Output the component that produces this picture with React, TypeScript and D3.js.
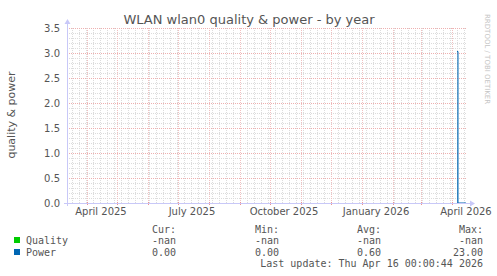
import * as d3 from 'd3';

// time window of the graph (about 400 days ending at the last update)
const END = new Date(2026, 3, 16, 0, 0, 44);
const START = d3.timeDay.offset(END, -400);

// power samples (date, value) – quality has no data (nan)
const powerDates = ['2026-04-01', '2026-04-06', '2026-04-07', '2026-04-15'];
const powerValues = [0, 3.03, 0, 0];

const yTicks = [0, 0.5, 1, 1.5, 2, 2.5, 3, 3.5];
const xLabels = ['April 2025', 'July 2025', 'October 2025', 'January 2026', 'April 2026'];
const xLabelDates = ['2025-04-15', '2025-07-15', '2025-10-15', '2026-01-15', '2026-04-15'];

const legendCols = ['Cur:', 'Min:', 'Avg:', 'Max:'];
const legendSeries = ['Quality', 'Power'];
const legendColors = ['#00CC00', '#0066B3'];
const legendValues = [
  ['-nan', '-nan', '-nan', '-nan'],
  ['0.00', '0.00', '0.60', '23.00'],
];

const parse = (s: string) => {
  const [y, m, d] = s.split('-').map(Number);
  return new Date(y, m - 1, d);
};

const W = 497;
const H = 276;
const LEFT = 67;
const RIGHT = 467;
const TOP = 28;
const BOTTOM = 203;

type Pt = { date: Date; value: number };

export default function App() {
  const x = d3.scaleTime().domain([START, END]).range([LEFT, RIGHT]);
  const y = d3.scaleLinear().domain([0, 3.5]).range([BOTTOM, TOP]);

  const minorY = d3.range(0, 36).map((i) => i / 10).filter((v) => !yTicks.includes(Math.round(v * 10) / 10));
  const months = d3.timeMonth.range(START, END);
  const weeks = d3.timeMonday.range(START, END);

  const power: Pt[] = powerDates.map((d, i) => ({ date: parse(d), value: powerValues[i] }));
  const area = d3
    .area<Pt>()
    .x((d) => x(d.date))
    .y0(y(0))
    .y1((d) => y(d.value))
    .curve(d3.curveStepAfter);
  const line = d3
    .line<Pt>()
    .x((d) => x(d.date))
    .y((d) => y(d.value))
    .curve(d3.curveStepAfter);

  const font = 'DejaVu Sans, sans-serif';
  const mono = 'DejaVu Sans Mono, monospace';
  const colX = [176, 279, 381, 483];
  const px = (d: Date) => Math.round(x(d)) + 0.5;

  return (
    <div style={{ position: 'absolute', left: 0, top: 0 }}>
      <svg width={W} height={H} style={{ display: 'block', background: '#fff' }}>
        <defs>
          <linearGradient id="pw" x1="0" y1="0" x2="0" y2="1">
            <stop offset="0%" stopColor="#0066B3" stopOpacity={0.15} />
            <stop offset="100%" stopColor="#0066B3" stopOpacity={0.6} />
          </linearGradient>
        </defs>

        {/* minor grid */}
        {minorY.map((v, i) => (
          <line key={'my' + i} x1={LEFT} x2={RIGHT} y1={y(v) + 0.5} y2={y(v) + 0.5}
            stroke="#dcdcdc" strokeDasharray="1,1" />
        ))}
        {weeks.map((d, i) => (
          <line key={'mx' + i} x1={px(d)} x2={px(d)} y1={TOP} y2={BOTTOM}
            stroke="#dcdcdc" strokeDasharray="1,1" />
        ))}

        {/* major grid */}
        {yTicks.map((v) => (
          <line key={'Y' + v} x1={LEFT} x2={RIGHT} y1={y(v) + 0.5} y2={y(v) + 0.5}
            stroke="#eeb0b0" strokeDasharray="1,1" />
        ))}
        {months.map((d, i) => (
          <line key={'X' + i} x1={px(d)} x2={px(d)} y1={TOP} y2={BOTTOM}
            stroke="#f0c0c0" strokeDasharray="1,1" />
        ))}
        {months.map((d, i) => (
          <line key={'t' + i} x1={px(d)} x2={px(d)} y1={BOTTOM - 1} y2={BOTTOM + 2}
            stroke="#ee9090" />
        ))}

        {/* power */}
        <path d={area(power) ?? ''} fill="url(#pw)" />
        <path d={line(power.slice(1)) ?? ''} fill="none" stroke="#0066B3" strokeWidth={1} />

        {/* axes */}
        <line x1={LEFT + 0.5} x2={LEFT + 0.5} y1={BOTTOM + 3} y2={TOP - 5} stroke="#c8c8f8" />
        <line x1={LEFT - 3} x2={RIGHT + 4} y1={BOTTOM + 0.5} y2={BOTTOM + 0.5} stroke="#c8c8f8" />
        <path d={`M${LEFT - 2.5},${TOP - 4} L${LEFT + 3.5},${TOP - 4} L${LEFT + 0.5},${TOP - 9} Z`} fill="#c8c8f8" />
        <path d={`M${RIGHT + 3},${BOTTOM - 2.5} L${RIGHT + 3},${BOTTOM + 3.5} L${RIGHT + 8},${BOTTOM + 0.5} Z`} fill="#c8c8f8" />

        {/* y labels */}
        {yTicks.map((v) => (
          <text key={'yl' + v} x={LEFT - 7} y={y(v) + 3.8} textAnchor="end" fontFamily={font} fontSize={10} fill="#555">
            {d3.format('.1f')(v)}
          </text>
        ))}
        {/* x labels */}
        {xLabels.map((l, i) => (
          <text key={l} x={x(parse(xLabelDates[i]))} y={215} textAnchor="middle" fontFamily={font} fontSize={10} fill="#555">
            {l}
          </text>
        ))}

        {/* title & side texts */}
        <text x={249} y={24} textAnchor="middle" fontFamily={font} fontSize={13} fill="#555">
          WLAN wlan0 quality &amp; power - by year
        </text>
        <text transform="translate(15,115) rotate(-90)" textAnchor="middle" fontFamily={font} fontSize={11} fill="#555">
          quality &amp; power
        </text>
        <text transform="translate(485,14) rotate(90)" textAnchor="start" fontFamily={font} fontSize={7} fill="#c4c4c4">
          RRDTOOL / TOBI OETIKER
        </text>

        {/* legend */}
        {legendCols.map((c, i) => (
          <text key={c} x={colX[i]} y={233} textAnchor="end" fontFamily={mono} fontSize={10} fill="#555">
            {c}
          </text>
        ))}
        {legendSeries.map((s, r) => (
          <g key={s}>
            <rect x={14} y={237 + r * 12} width={6} height={6} fill={legendColors[r]} />
            <text x={26} y={244 + r * 12} fontFamily={mono} fontSize={10} fill="#555">{s}</text>
            {legendValues[r].map((v, i) => (
              <text key={i} x={colX[i]} y={244 + r * 12} textAnchor="end" fontFamily={mono} fontSize={10} fill="#555">
                {v}
              </text>
            ))}
          </g>
        ))}
        <text x={483} y={267} textAnchor="end" fontFamily={mono} fontSize={10} fill="#555">
          Last update: Thu Apr 16 00:00:44 2026
        </text>
      </svg>
    </div>
  );
}
